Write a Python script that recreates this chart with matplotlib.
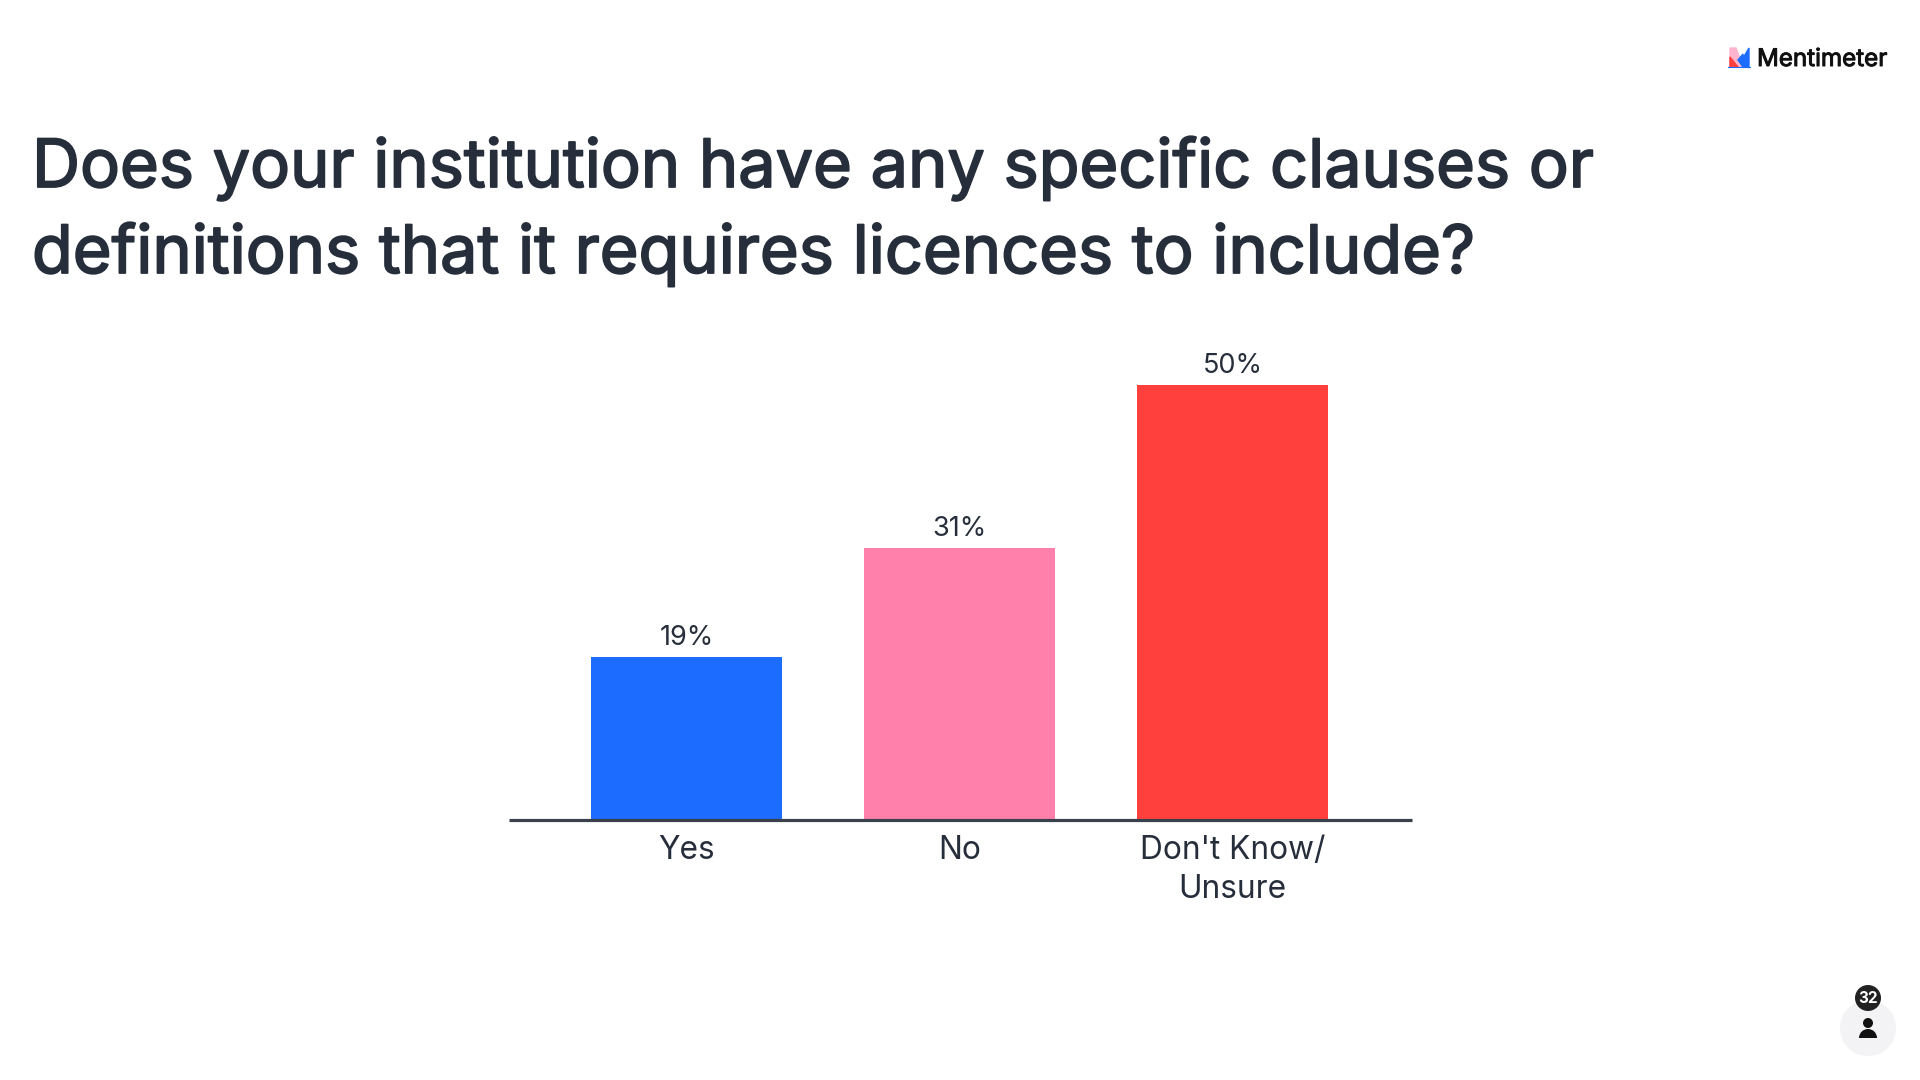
import matplotlib
matplotlib.use('Agg')
import matplotlib.pyplot as plt
import matplotlib.patheffects as pe
from matplotlib.patches import Circle, Polygon, Wedge

plt.rcParams['font.family'] = ['Inter', 'DejaVu Sans']

# 32 votos: 6, 10, 16
categories = ["Yes", "No", "Don't Know/\nUnsure"]
values = [18.75, 31.25, 50]
value_labels = ["19%", "31%", "50%"]
colors = ['#1c6cff', '#ff80ab', '#ff403d']
title_lines = ["Does your institution have any specific clauses or",
               "definitions that it requires licences to include?"]
W, H = 1920, 1080
dark = '#272e3b'

fig = plt.figure(figsize=(W/100, H/100), dpi=100, facecolor='white')

# camada em pixels para titulo, logo e icone
bg = fig.add_axes([0, 0, 1, 1])
bg.set_xlim(0, W)
bg.set_ylim(H, 0)
bg.axis('off')

# a fonte instalada fica mais fina que a original, engrossa com stroke
for line, y in zip(title_lines, [187, 273]):
    bg.text(32, y, line, fontsize=47.95, color=dark, va='baseline', ha='left',
            path_effects=[pe.withStroke(linewidth=1.3, foreground=dark)])

# logo
bg.add_patch(Polygon([(1730, 67), (1730, 48), (1736, 48), (1743, 67)], color='#ffb3cc'))
bg.add_patch(Polygon([(1730, 67), (1730, 57), (1738, 67)], color='#ff403d'))
bg.add_patch(Polygon([(1738, 60), (1743, 54), (1743, 58), (1749, 48), (1749, 67), (1743, 67)], color='#1c6cff'))
bg.plot([1728, 1750], [67, 67], color='#1c6cff', lw=0.8)
bg.text(1757, 66, "Mentimeter", fontsize=17.4, color='#101010', va='baseline', ha='left',
        path_effects=[pe.withStroke(linewidth=0.7, foreground='#101010')])

# contador de participantes
bg.add_patch(Circle((1868, 1028), 28, color='#f3f3f5', lw=0))
bg.add_patch(Circle((1868, 998), 13, color='#222222', lw=0, zorder=3))
bg.text(1868, 998.5, "32", fontsize=11, color='white', ha='center', va='center', fontweight='bold', zorder=4)
bg.add_patch(Circle((1868, 1023), 5, color='#111111', lw=0))
bg.add_patch(Wedge((1868, 1038), 9, 180, 360, color='#111111', lw=0))

# grafico
ax = fig.add_axes([509/W, 1 - 820/H, (1412-509)/W, 435/H])
x = range(len(categories))
bars = ax.bar(x, values, width=0.7, color=colors, linewidth=0)
ax.set_xlim(-0.652, 2.658)
ax.set_ylim(0, 50)
ax.patch.set_alpha(0)
for s in ['top', 'left', 'right']:
    ax.spines[s].set_visible(False)
ax.spines['bottom'].set_color('#3a404c')
ax.spines['bottom'].set_linewidth(2.3)
ax.spines['bottom'].set_capstyle('butt')
ax.set_yticks([])
ax.set_xticks(list(x))
ax.set_xticklabels(categories, fontsize=22.8, color=dark, linespacing=1.37)
ax.tick_params(axis='x', length=0, pad=10.5)
for b, lab in zip(bars, value_labels):
    ax.annotate(lab, (b.get_x() + b.get_width()/2, b.get_height()), xytext=(0, 4.5),
                textcoords='offset points', ha='center', va='bottom', fontsize=19.5, color=dark, annotation_clip=False)

fig.savefig('out.png', dpi=100)
